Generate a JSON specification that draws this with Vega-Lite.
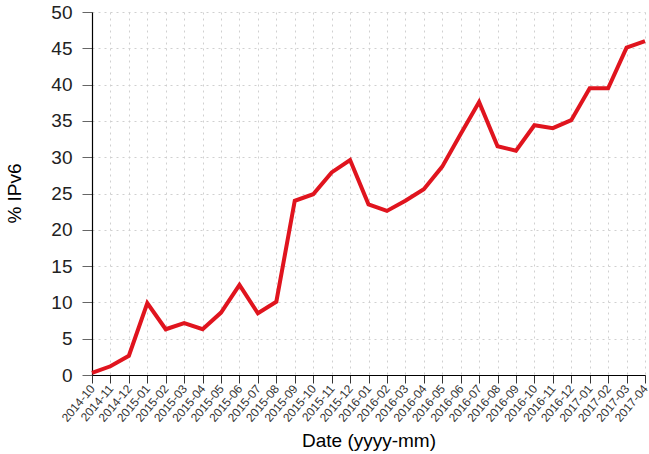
{
  "$schema": "https://vega.github.io/schema/vega-lite/v6.json",
  "autosize": "none",
  "width": 553,
  "height": 363,
  "padding": {"left": 92, "top": 12, "right": 4, "bottom": 79},
  "background": "white",
  "config": {
    "view": {"stroke": null},
    "font": "Liberation Sans"
  },
  "data": {
    "values": [
      {"date": "2014-10", "ipv6": 0.3},
      {"date": "2014-11", "ipv6": 1.2},
      {"date": "2014-12", "ipv6": 2.65},
      {"date": "2015-01", "ipv6": 9.9},
      {"date": "2015-02", "ipv6": 6.3},
      {"date": "2015-03", "ipv6": 7.15},
      {"date": "2015-04", "ipv6": 6.3},
      {"date": "2015-05", "ipv6": 8.6},
      {"date": "2015-06", "ipv6": 12.4},
      {"date": "2015-07", "ipv6": 8.5},
      {"date": "2015-08", "ipv6": 10.1},
      {"date": "2015-09", "ipv6": 24.0},
      {"date": "2015-10", "ipv6": 24.9},
      {"date": "2015-11", "ipv6": 27.9},
      {"date": "2015-12", "ipv6": 29.6},
      {"date": "2016-01", "ipv6": 23.5},
      {"date": "2016-02", "ipv6": 22.6},
      {"date": "2016-03", "ipv6": 24.0},
      {"date": "2016-04", "ipv6": 25.6},
      {"date": "2016-05", "ipv6": 28.7},
      {"date": "2016-06", "ipv6": 33.2},
      {"date": "2016-07", "ipv6": 37.6},
      {"date": "2016-08", "ipv6": 31.5},
      {"date": "2016-09", "ipv6": 30.9},
      {"date": "2016-10", "ipv6": 34.4},
      {"date": "2016-11", "ipv6": 34.0},
      {"date": "2016-12", "ipv6": 35.1},
      {"date": "2017-01", "ipv6": 39.5},
      {"date": "2017-02", "ipv6": 39.5},
      {"date": "2017-03", "ipv6": 45.1},
      {"date": "2017-04", "ipv6": 46.0}
    ]
  },
  "mark": {"type": "line", "color": "#e0141e", "strokeWidth": 4, "strokeJoin": "miter"},
  "encoding": {
    "x": {
      "field": "date",
      "type": "ordinal",
      "sort": null,
      "scale": {"type": "point", "padding": 0},
      "axis": {
        "title": "Date (yyyy-mm)",
        "titleFontSize": 19,
        "titleFontWeight": "normal",
        "titleColor": "#000",
        "titleY": 65,
        "titleBaseline": "middle",
        "labelAngle": -50,
        "labelAlign": "right",
        "labelBaseline": "middle",
        "labelFontSize": 12,
        "labelColor": "#333",
        "labelPadding": 3,
        "tickSize": 8,
        "tickColor": "#333",
        "domainColor": "#000",
        "domainWidth": 1.2,
        "grid": true,
        "gridColor": "#d0d0d0",
        "gridDash": [2, 4],
        "gridWidth": 1
      }
    },
    "y": {
      "field": "ipv6",
      "type": "quantitative",
      "scale": {"domain": [0, 50], "nice": false},
      "axis": {
        "title": "% IPv6",
        "titleFontSize": 19,
        "titleFontWeight": "normal",
        "titleColor": "#000",
        "titleX": -78,
        "titleY": 181,
        "titleAlign": "center",
        "titleBaseline": "middle",
        "values": [0, 5, 10, 15, 20, 25, 30, 35, 40, 45, 50],
        "labelFontSize": 19,
        "labelColor": "#222",
        "labelPadding": 10,
        "tickSize": 10,
        "tickColor": "#666",
        "domainColor": "#000",
        "domainWidth": 1.2,
        "grid": true,
        "gridColor": "#d0d0d0",
        "gridDash": [2, 4],
        "gridWidth": 1
      }
    }
  }
}
